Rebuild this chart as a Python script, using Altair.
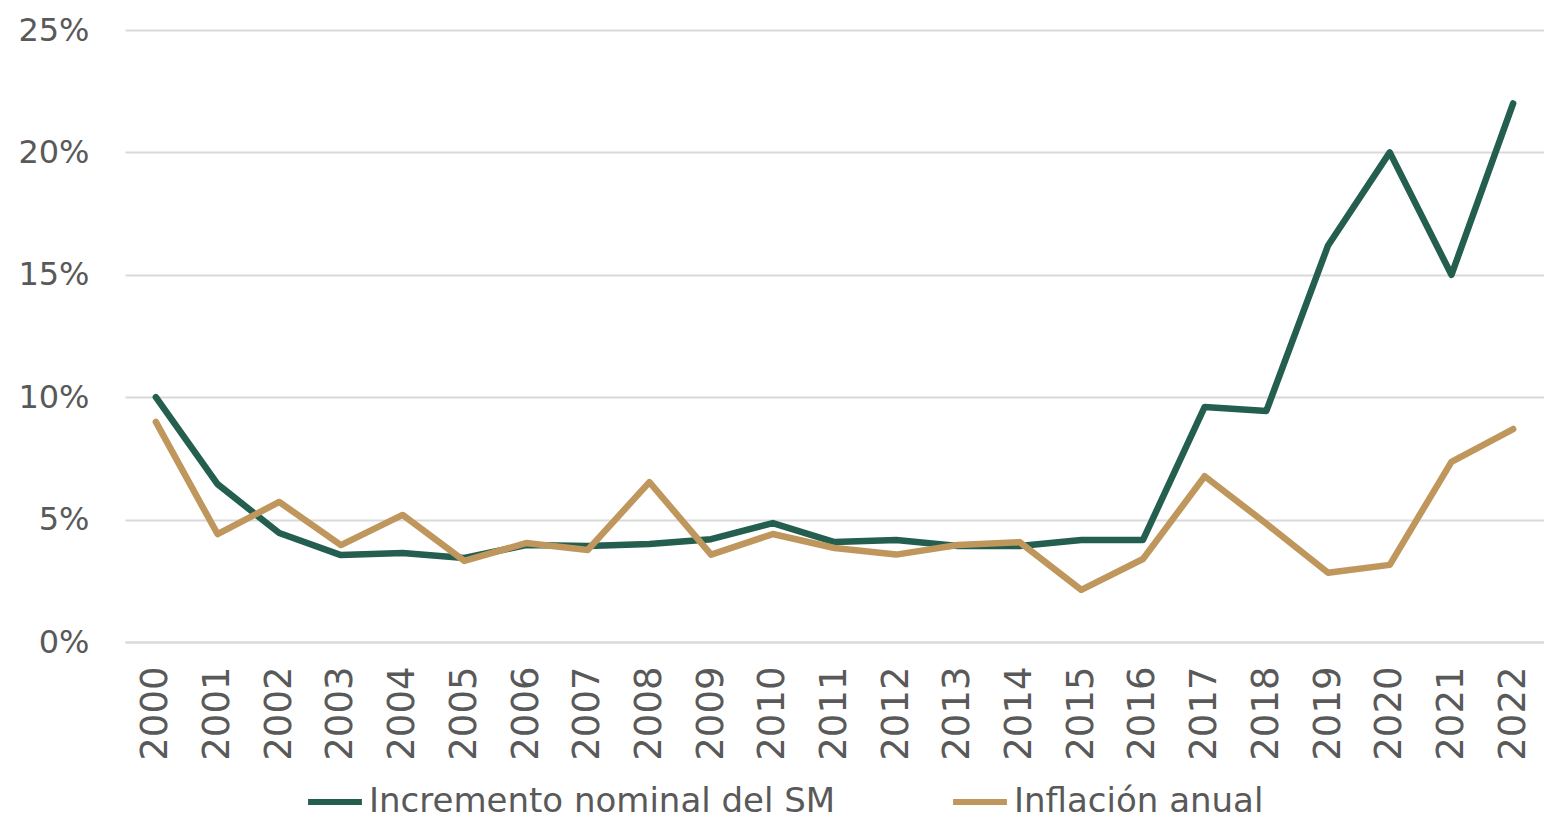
import altair as alt
import pandas as pd

years = [str(y) for y in range(2000, 2023)]
sm = [10.0, 6.45, 4.45, 3.55, 3.64, 3.43, 3.96, 3.92, 4.0, 4.2, 4.86, 4.08, 4.17,
      3.92, 3.92, 4.17, 4.17, 9.6, 9.44, 16.2, 20.0, 15.0, 22.0]
infl = [8.99, 4.41, 5.72, 3.96, 5.19, 3.31, 4.04, 3.76, 6.53, 3.57, 4.41, 3.84, 3.57,
        3.96, 4.08, 2.13, 3.39, 6.77, 4.83, 2.83, 3.15, 7.36, 8.70]
series = ["Incremento nominal del SM", "Inflación anual"]
colors = ["#235e4e", "#bf975d"]

rows = []
for i, y in enumerate(years):
    rows.append({"year": y, "serie": series[0], "value": sm[i] / 100, "ord": 0})
    rows.append({"year": y, "serie": series[1], "value": infl[i] / 100, "ord": 1})
df = pd.DataFrame(rows)

FONT = "DejaVu Sans"
GRAY = "#595959"

chart = alt.Chart(df).mark_line(strokeCap="round", strokeJoin="round").encode(
    x=alt.X("year:O", scale=alt.Scale(type="point", padding=0.5),
            axis=alt.Axis(title=None, labelAngle=-90, labelFontSize=37, labelColor=GRAY,
                          labelFont=FONT, labelPadding=24, ticks=False, domain=True,
                          domainColor="#d9d9d9", domainWidth=2, labelBaseline="middle",
                          labelAlign="right")),
    y=alt.Y("value:Q", scale=alt.Scale(domain=[0, 0.25], nice=False),
            axis=alt.Axis(title=None, format=".0%", values=[0, 0.05, 0.1, 0.15, 0.2, 0.25],
                          labelFontSize=32, labelColor=GRAY, labelFont=FONT, labelPadding=36,
                          ticks=False, domain=False, gridColor="#d9d9d9", gridWidth=2)),
    color=alt.Color("serie:N", scale=alt.Scale(domain=series, range=colors),
                    legend=alt.Legend(title=None, orient="none", direction="horizontal",
                                      legendX=180, legendY=742, symbolType="stroke",
                                      symbolSize=2900, symbolStrokeWidth=6,
                                      labelFontSize=34, labelFont=FONT, labelColor=GRAY,
                                      columnPadding=105, labelOffset=4, labelLimit=800)),
    strokeWidth=alt.value(6.5),
    order="ord:Q",
    detail="serie:N",
).properties(
    width=1419, height=612,
    padding={"left": 117, "top": 22, "right": 0, "bottom": 175},
    autosize=alt.AutoSizeParams(type="none"),
).configure_view(stroke=None)

chart.save("out.html", embed_options={"renderer": "svg", "actions": False})
